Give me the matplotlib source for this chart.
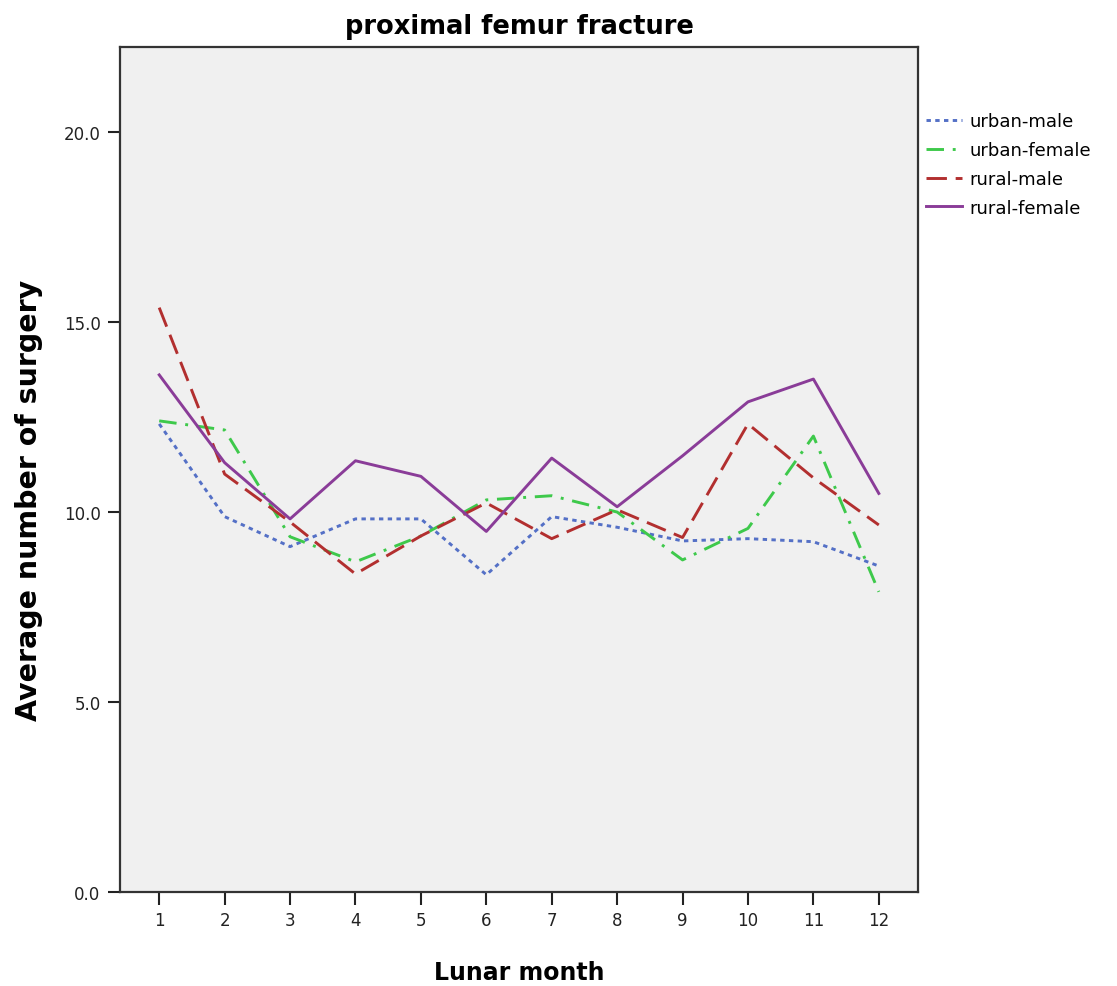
import matplotlib
matplotlib.use("Agg")
import matplotlib.pyplot as plt
import numpy as np

# Werte
months = np.arange(1, 13)
urban_male = [12.32, 9.88, 9.09, 9.82, 9.82, 8.35, 9.88, 9.60, 9.24, 9.30, 9.22, 8.58]
urban_female = [12.40, 12.16, 9.35, 8.69, 9.37, 10.32, 10.43, 10.00, 8.74, 9.57, 12.00, 7.90]
rural_male = [15.38, 11.00, 9.74, 8.37, 9.37, 10.24, 9.30, 10.06, 9.33, 12.32, 10.90, 9.66]
rural_female = [13.61, 11.30, 9.82, 11.35, 10.94, 9.49, 11.42, 10.14, 11.48, 12.90, 13.50, 10.49]

plt.rcParams['font.family'] = ['DejaVu Sans']

fig = plt.figure(figsize=(11.17, 9.87), dpi=100)
ax = fig.add_axes([0.1074, 0.0952, 0.7145, 0.8562])
ax.set_facecolor('#f0f0f0')

ax.plot(months, urban_male, color='#5470c6', lw=2.1, linestyle=(0, (1.5, 1.5)), label='urban-male')
ax.plot(months, urban_female, color='#3ec94b', lw=2.1, linestyle=(0, (6, 3, 1, 3)), label='urban-female')
ax.plot(months, rural_male, color='#b22f2f', lw=2.1, linestyle=(0, (7, 3)), label='rural-male')
ax.plot(months, rural_female, color='#8a3c98', lw=2.1, linestyle='-', label='rural-female')

ax.set_xlim(0.4, 12.6)
ax.set_ylim(0, 22.24)
ax.set_xticks(months)
ax.set_yticks([0, 5, 10, 15, 20])
ax.set_yticklabels(['0.0', '5.0', '10.0', '15.0', '20.0'])
ax.tick_params(direction='out', length=9, width=1.5, labelsize=12, colors='#222222', pad=5)
for s in ax.spines.values():
    s.set_linewidth(1.6)
    s.set_color('#333333')

ax.set_title('proximal femur fracture', fontsize=18.5, fontweight='bold', pad=10)
ax.set_xlabel('Lunar month', fontsize=17, fontweight='bold', labelpad=22)
ax.set_ylabel('Average number of surgery', fontsize=20.5, fontweight='bold')
ax.yaxis.set_label_coords(-0.097, 0.465)

ax.legend(loc='upper left', bbox_to_anchor=(0.99, 0.942), frameon=False,
          fontsize=13, handlelength=2.0, labelspacing=0.6, handletextpad=0.4)

fig.savefig('out.png', dpi=100)
